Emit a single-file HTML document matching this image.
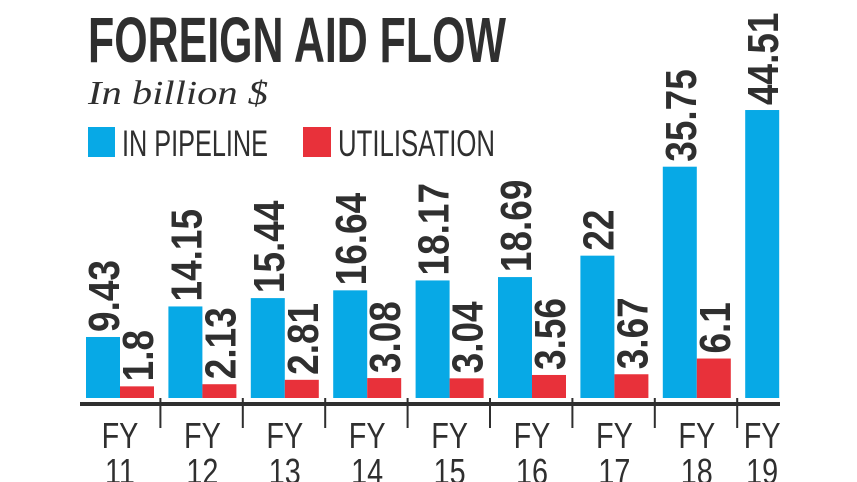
<!DOCTYPE html>
<html><head><meta charset="utf-8"><style>
html,body{margin:0;padding:0;background:#fff;width:857px;height:482px;overflow:hidden}
</style></head><body>
<svg id="chart" width="857" height="482" viewBox="0 0 857 482" xmlns="http://www.w3.org/2000/svg">
<text x="88" y="62" font-family="Liberation Sans, sans-serif" font-weight="bold" font-size="64" fill="#2f2f2f" textLength="418" lengthAdjust="spacingAndGlyphs">FOREIGN AID FLOW</text>
<text x="88" y="104" font-family="Liberation Serif, serif" font-style="italic" font-size="34" fill="#2f2f2f" textLength="180" lengthAdjust="spacingAndGlyphs">In billion $</text>
<rect x="88" y="127" width="27" height="30" fill="#07a9e6"/>
<text x="122" y="156" font-family="Liberation Sans, sans-serif" font-size="37" fill="#2f2f2f" textLength="146" lengthAdjust="spacingAndGlyphs">IN PIPELINE</text>
<rect x="303" y="127" width="28" height="30" fill="#e8313a"/>
<text x="338" y="156" font-family="Liberation Sans, sans-serif" font-size="37" fill="#2f2f2f" textLength="157" lengthAdjust="spacingAndGlyphs">UTILISATION</text>
<g id="plot"></g>
</svg>
<script>
const categories = ["11","12","13","14","15","16","17","18","19"];
const pipeline = [9.43,14.15,15.44,16.64,18.17,18.69,22,35.75,44.51];
const utilisation = [1.8,2.13,2.81,3.08,3.04,3.56,3.67,6.1,null];
const pipelineLabels = ["9.43","14.15","15.44","16.64","18.17","18.69","22","35.75","44.51"];
const utilLabels = ["1.8","2.13","2.81","3.08","3.04","3.56","3.67","6.1",""];

const NS = "http://www.w3.org/2000/svg";
const plot = document.getElementById("plot");
const base = 398, scale = 6.47, x0 = 86, step = 82.4, bw = 34;
const y = v => base - v * scale;
const gx = i => x0 + i * step;
function mk(tag, attrs){const e=document.createElementNS(NS,tag);for(const k in attrs)e.setAttribute(k,attrs[k]);plot.appendChild(e);return e;}
function label(txt, xr, top){
  const t = mk("text",{x:0,y:0,"font-family":"Liberation Sans, sans-serif","font-weight":"bold","font-size":"44",fill:"#2f2f2f",
    transform:`translate(${xr},${top-5}) rotate(-90) scale(0.84,1)`});
  t.textContent = txt;
  return t;
}
categories.forEach((c,i)=>{
  const b = mk("rect",{x:gx(i),y:y(pipeline[i]),width:bw,height:base-y(pipeline[i]),fill:"#07a9e6"});
  
  
  const l = label(pipelineLabels[i], gx(i)+bw-1, y(pipeline[i]));
  
  
  if(utilisation[i]!==null){
    const r = mk("rect",{x:gx(i)+bw,y:y(utilisation[i]),width:bw,height:base-y(utilisation[i]),fill:"#e8313a"});
    
    
    const l2 = label(utilLabels[i], gx(i)+2*bw-1, y(utilisation[i]));
    
    
  }
  const cx = i===8 ? gx(i)+bw/2 : gx(i)+bw;
  const f = mk("text",{x:cx,y:448,"text-anchor":"middle","font-family":"Liberation Sans, sans-serif","font-size":"36",fill:"#2f2f2f",transform:`translate(${cx},0) scale(0.8,1) translate(${-cx},0)`});
  f.textContent="FY";
  
  
  const n = mk("text",{x:cx,y:484,"text-anchor":"middle","font-family":"Liberation Sans, sans-serif","font-size":"36",fill:"#2f2f2f",transform:`translate(${cx},0) scale(0.8,1) translate(${-cx},0)`});
  n.textContent=c;
  
  
  if(i>0){
    const s = mk("rect",{x:gx(i)-9,y:398,width:2,height:30,fill:"#2f2f2f"});
    
    
  }
});
const ax = mk("rect",{x:80,y:402,width:700,height:4,fill:"#2f2f2f"});


</script>
</body></html>
